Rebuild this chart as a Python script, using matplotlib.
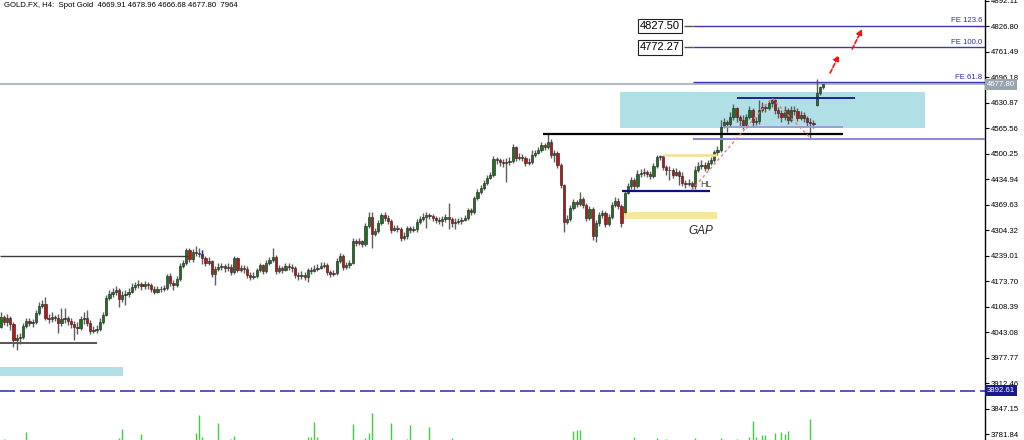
import matplotlib
matplotlib.use('Agg')
import matplotlib.pyplot as plt
import matplotlib.transforms as mtransforms
from matplotlib.patches import Rectangle
import numpy as np

plt.rcParams['font.family'] = ['Liberation Sans', 'DejaVu Sans']
plt.rcParams['lines.scale_dashes'] = False

header = "GOLD.FX, H4:  Spot Gold  4669.91 4678.96 4666.68 4677.80  7964"

# ---------------- data ----------------
first_open = 4056
gap_opens = {195: 4350, 255: 4625}

closes = [4082,4069,4079,4064,4023,4028,4030,4059,4071,4066,
          4069,4092,4110,4115,4079,4076,4082,4079,4066,4076,
          4079,4071,4064,4056,4053,4076,4079,4066,4046,4048,
          4051,4069,4087,4130,4140,4146,4151,4128,4138,4140,
          4146,4158,4164,4166,4161,4166,4164,4153,4146,4153,
          4153,4156,4187,4169,4164,4179,4212,4220,4253,4230,
          4248,4246,4243,4233,4220,4225,4192,4205,4210,4212,
          4207,4210,4197,4233,4202,4207,4205,4189,4184,4187,
          4202,4215,4199,4220,4228,4235,4199,4207,4202,4212,
          4210,4207,4189,4187,4189,4184,4202,4199,4205,4207,
          4212,4215,4197,4192,4194,4225,4238,4210,4215,4220,
          4276,4271,4276,4269,4315,4338,4294,4302,4322,4343,
          4335,4327,4304,4310,4307,4284,4289,4310,4304,4307,
          4325,4333,4338,4343,4340,4335,4330,4327,4333,4338,
          4333,4322,4325,4327,4330,4335,4356,4350,4386,4402,
          4412,4425,4438,4445,4486,4484,4479,4476,4479,4481,
          4517,4489,4491,4489,4476,4479,4496,4502,4509,4522,
          4517,4530,4496,4502,4471,4420,4325,4333,4361,4376,
          4371,4384,4368,4335,4358,4289,4322,4343,4348,4320,
          4338,4368,4379,4366,4322,4399,4417,4432,4417,4448,
          4450,4453,4448,4443,4468,4491,4494,4466,4458,4458,
          4445,4453,4443,4425,4422,4425,4417,4458,4468,4471,
          4463,4476,4484,4504,4509,4568,4581,4576,4594,4617,
          4594,4586,4573,4594,4612,4581,4584,4612,4619,4617,
          4630,4637,4612,4604,4594,4612,4586,4612,4609,4591,
          4599,4591,4581,4578,4576,4655,4669.91,4677.80]

highs = [4094,4087,4089,4084,4069,4038,4041,4066,4079,4079,
         4076,4100,4120,4125,4133,4089,4094,4087,4089,4105,
         4105,4084,4079,4071,4069,4084,4094,4100,4074,4059,
         4061,4079,4094,4138,4151,4156,4161,4156,4148,4151,
         4156,4169,4171,4176,4171,4174,4171,4169,4161,4161,
         4161,4164,4192,4194,4176,4187,4220,4228,4258,4258,
         4256,4263,4258,4253,4238,4235,4228,4212,4220,4220,
         4217,4220,4217,4238,4235,4215,4215,4212,4197,4197,
         4207,4220,4217,4228,4235,4258,4240,4215,4212,4220,
         4220,4217,4212,4197,4199,4197,4207,4210,4215,4217,
         4222,4222,4220,4202,4202,4233,4246,4243,4222,4228,
         4284,4281,4284,4279,4322,4350,4350,4310,4330,4348,
         4350,4343,4333,4317,4317,4312,4299,4315,4315,4315,
         4333,4340,4348,4350,4348,4345,4340,4338,4340,4345,
         4374,4338,4335,4335,4338,4343,4361,4361,4391,4409,
         4420,4432,4445,4453,4494,4491,4489,4486,4489,4491,
         4525,4520,4502,4499,4494,4489,4509,4509,4517,4530,
         4527,4550,4537,4509,4507,4476,4422,4343,4368,4384,
         4381,4402,4389,4374,4366,4363,4330,4350,4356,4353,
         4345,4376,4389,4386,4371,4407,4425,4440,4438,4458,
         4461,4463,4458,4456,4476,4496,4496,4496,4471,4468,
         4463,4463,4458,4453,4432,4435,4430,4468,4479,4484,
         4479,4484,4491,4509,4520,4586,4591,4586,4607,4627,
         4619,4599,4599,4601,4622,4617,4594,4637,4632,4627,
         4637,4642,4640,4619,4612,4622,4617,4622,4622,4617,
         4609,4607,4596,4591,4586,4691,4674,4678.96]

lows = [4053,4061,4059,4048,4005,3997,4012,4025,4053,4059,
        4056,4064,4087,4105,4074,4066,4069,4071,4041,4059,
        4066,4061,4053,4023,4038,4048,4064,4059,4038,4041,
        4041,4046,4064,4084,4125,4133,4138,4107,4120,4112,
        4133,4143,4151,4156,4151,4153,4153,4146,4140,4143,
        4146,4148,4151,4161,4151,4158,4174,4207,4215,4222,
        4222,4238,4235,4217,4212,4215,4184,4164,4199,4202,
        4197,4199,4189,4192,4197,4197,4194,4181,4176,4179,
        4181,4197,4192,4194,4215,4222,4192,4194,4194,4199,
        4202,4197,4181,4176,4179,4176,4171,4192,4197,4199,
        4205,4207,4189,4184,4187,4189,4220,4202,4205,4207,
        4217,4263,4266,4261,4263,4310,4258,4289,4297,4317,
        4327,4320,4297,4302,4299,4276,4279,4281,4297,4299,
        4299,4320,4327,4310,4333,4327,4322,4320,4315,4325,
        4307,4312,4307,4320,4320,4327,4330,4343,4345,4381,
        4397,4407,4420,4435,4440,4473,4468,4466,4427,4471,
        4476,4481,4484,4481,4468,4471,4473,4491,4499,4504,
        4509,4512,4489,4479,4463,4412,4299,4320,4327,4356,
        4363,4366,4361,4327,4330,4279,4274,4315,4335,4312,
        4315,4333,4363,4358,4312,4348,4397,4409,4407,4412,
        4440,4443,4440,4435,4437,4463,4484,4458,4445,4432,
        4437,4443,4420,4417,4412,4417,4407,4409,4453,4461,
        4455,4458,4471,4479,4496,4504,4566,4555,4568,4586,
        4581,4571,4563,4566,4589,4568,4573,4576,4607,4607,
        4612,4619,4601,4591,4581,4586,4576,4581,4599,4583,
        4586,4581,4571,4540,4566,4622,4650,4666.68]

vol_idx = [1, 8, 37, 38, 44, 61, 62, 63, 68, 72, 73, 96, 97, 98, 99, 110,
           114, 115, 116, 122, 127, 128, 134, 141, 179, 180, 181, 198, 205,
           208, 217, 225, 230, 234, 235, 236, 238, 239, 242, 244, 245, 246, 253]
vol_vals = [1000, 8000, 2000, 11000, 6000, 7000, 25000, 3000, 17000, 1000,
            4000, 3000, 3000, 18000, 3000, 16000, 2000, 7000, 27000, 17000,
            1000, 15000, 13000, 2000, 9000, 10000, 10000, 3000, 2000, 1000,
            2000, 2000, 1000, 3000, 19000, 3000, 5000, 5000, 7000, 8000,
            6000, 9000, 21000]

price_ticks = [4892.11, 4826.80, 4761.49, 4696.18, 4630.87, 4565.56, 4500.25,
               4434.94, 4369.63, 4304.32, 4239.01, 4173.70, 4108.39, 4043.08,
               3977.77, 3912.46, 3847.15, 3781.84]
bid_price = 4677.80
dashed_level = 3892.61
fe_labels = ['FE 61.8', 'FE 100.0', 'FE 123.6']
fe_values = [4682.93, 4772.27, 4827.50]
fe_zero = 4538.24
boxed_levels = [4827.50, 4772.27]

# ---------------- figure ----------------
fig = plt.figure(figsize=(10.24, 4.4), dpi=100)
ax = fig.add_axes([0, 0, 985 / 1024, 1])
XMIN, XMAX = -0.19, 307.6
ax.set_xlim(XMIN, XMAX)
ax.set_ylim(3766.6, 4893.4)

n = len(closes)
x = np.arange(n)
opens = [first_open] + closes[:-1]
for k, v in gap_opens.items():
    opens[k] = v
o = np.array(opens, float)
c = np.array(closes, float)
h = np.maximum(np.array(highs, float), np.maximum(o, c))
l = np.minimum(np.array(lows, float), np.minimum(o, c))
up = c >= o

# background objects
ax.add_patch(Rectangle((193.6, 4565.6), 95.3, 92.2, fc='#b0e0e6', ec='none', zorder=1))
ax.add_patch(Rectangle((XMIN, 3930.5), 38.4, 23.0, fc='#b0e0e6', ec='none', zorder=1))
ax.add_patch(Rectangle((193.6, 4332.5), 30.3, 18.0, fc='#f3e6a0', ec='none', zorder=1))

ax.axhline(bid_price, color='#b4bcc8', lw=1.5, zorder=2)
ax.axhline(dashed_level, color='#5656b8', lw=1.4, dashes=(10.8, 3.6), zorder=2)
ax.hlines(4239, XMIN, 58.6, color='#3a3a3a', lw=1.0, zorder=2)
ax.hlines(4016, XMIN, 30.1, color='#3a3a3a', lw=1.2, zorder=2)

# candles
ax.vlines(x, l, h, color='#5e5e5e', lw=1.0, zorder=3)
body_h = np.maximum(np.abs(c - o), 1.2)
ax.bar(x, body_h, bottom=np.minimum(o, c), width=0.7,
       color=np.where(up, '#1d741d', '#c81010'), edgecolor='#2a2a2a',
       linewidth=0.45, zorder=4)

# overlays
ax.hlines(highs[171], 169.5, 263.2, color='black', lw=1.6, zorder=5)
ax.hlines(4641.6, 230.1, 267.0, color='#141488', lw=1.3, zorder=5)
ax.hlines(4569.0, 225.8, 263.2, color='#9a9ad8', lw=1.3, zorder=5)
ax.hlines(fe_zero, 216.4, XMAX, color='#8c8cd0', lw=1.5, zorder=5)
ax.hlines(4496.5, 207.0, 223.9, color='#f0e08c', lw=1.8, zorder=5)
ax.hlines(4405.5, 194.2, 221.7, color='#101080', lw=1.6, zorder=5)
ax.vlines(62.9, 4237, 4253, color='#2020c0', lw=0.9, zorder=5)

for lab, val in zip(fe_labels, fe_values):
    ax.hlines(val, 216.4, XMAX, color='#3838b0', lw=1.0, zorder=5)
    ax.annotate(lab, xy=(0.997, val), xycoords=('axes fraction', 'data'),
                xytext=(0, 1.2), textcoords='offset points', ha='right',
                va='bottom', fontsize=5.6, color='#2b2bb0', zorder=6)

for val in boxed_levels:
    ax.hlines(val, 213.6, 216.4, color='#555555', lw=1.0, zorder=5)
    ax.text(206.1, val, f'{val:.2f}', ha='center', va='center', fontsize=8,
            color='black', zorder=7,
            bbox=dict(boxstyle='square,pad=0.2', fc='white', ec='#222222', lw=0.8))

ax.plot([216, 241, 253], [lows[216], highs[241], lows[253]], color='#f07a7a',
        lw=1.0, dashes=(2, 2), zorder=6)

for (x0, y0), (x1, y1) in [((259.2, 4706.4), (262.0, 4752.5)),
                           ((266.1, 4767.9), (269.2, 4819.1))]:
    ax.annotate('', xy=(x1, y1), xytext=(x0, y0),
                arrowprops=dict(arrowstyle='-|>', color='#ff1010', lw=1.2,
                                linestyle=(0, (3, 1.5)), mutation_scale=8,
                                shrinkA=0, shrinkB=0), zorder=7)

ax.text(218.6, 4420, 'HL', fontsize=6.5, color='#444444', ha='left', va='center', zorder=7)
ax.text(215.0, 4303, 'GAP', fontsize=8.5, color='#2a2a2a', ha='left', va='center',
        fontstyle='italic', zorder=7)

# axis styling
for s in ['top', 'left', 'bottom']:
    ax.spines[s].set_visible(False)
ax.spines['right'].set_color('black')
ax.spines['right'].set_linewidth(1.0)
ax.set_xticks([])
ax.yaxis.tick_right()
ax.set_yticks(price_ticks)
ax.set_yticklabels([f'{v:.2f}' for v in price_ticks])
ax.tick_params(axis='y', direction='out', length=3, width=0.8, pad=1,
               labelsize=5.6, colors='black')

trans = mtransforms.blended_transform_factory(ax.transAxes, ax.transData)
ax.text(1.002, bid_price, f'{bid_price:.2f}', transform=trans, ha='left', va='center',
        fontsize=5.6, color='white', zorder=8, clip_on=False,
        bbox=dict(boxstyle='square,pad=0.25', fc='#98a4b0', ec='none'))
ax.text(1.002, dashed_level, f'{dashed_level:.2f}', transform=trans, ha='left', va='center',
        fontsize=5.6, color='white', zorder=8, clip_on=False,
        bbox=dict(boxstyle='square,pad=0.25', fc='#1a1a8a', ec='none'))

# volumes
axv = fig.add_axes(ax.get_position(), sharex=ax)
axv.set_ylim(0, 440000)
axv.vlines(vol_idx, 0, vol_vals, color='#3fcf3f', lw=1.0)
axv.axis('off')
axv.patch.set_alpha(0)
axv.set_xlim(XMIN, XMAX)

fig.text(4 / 1024, 1 - 5.5 / 440, header, fontsize=5.6, ha='left', va='center')

fig.savefig('out.png', dpi=100)
